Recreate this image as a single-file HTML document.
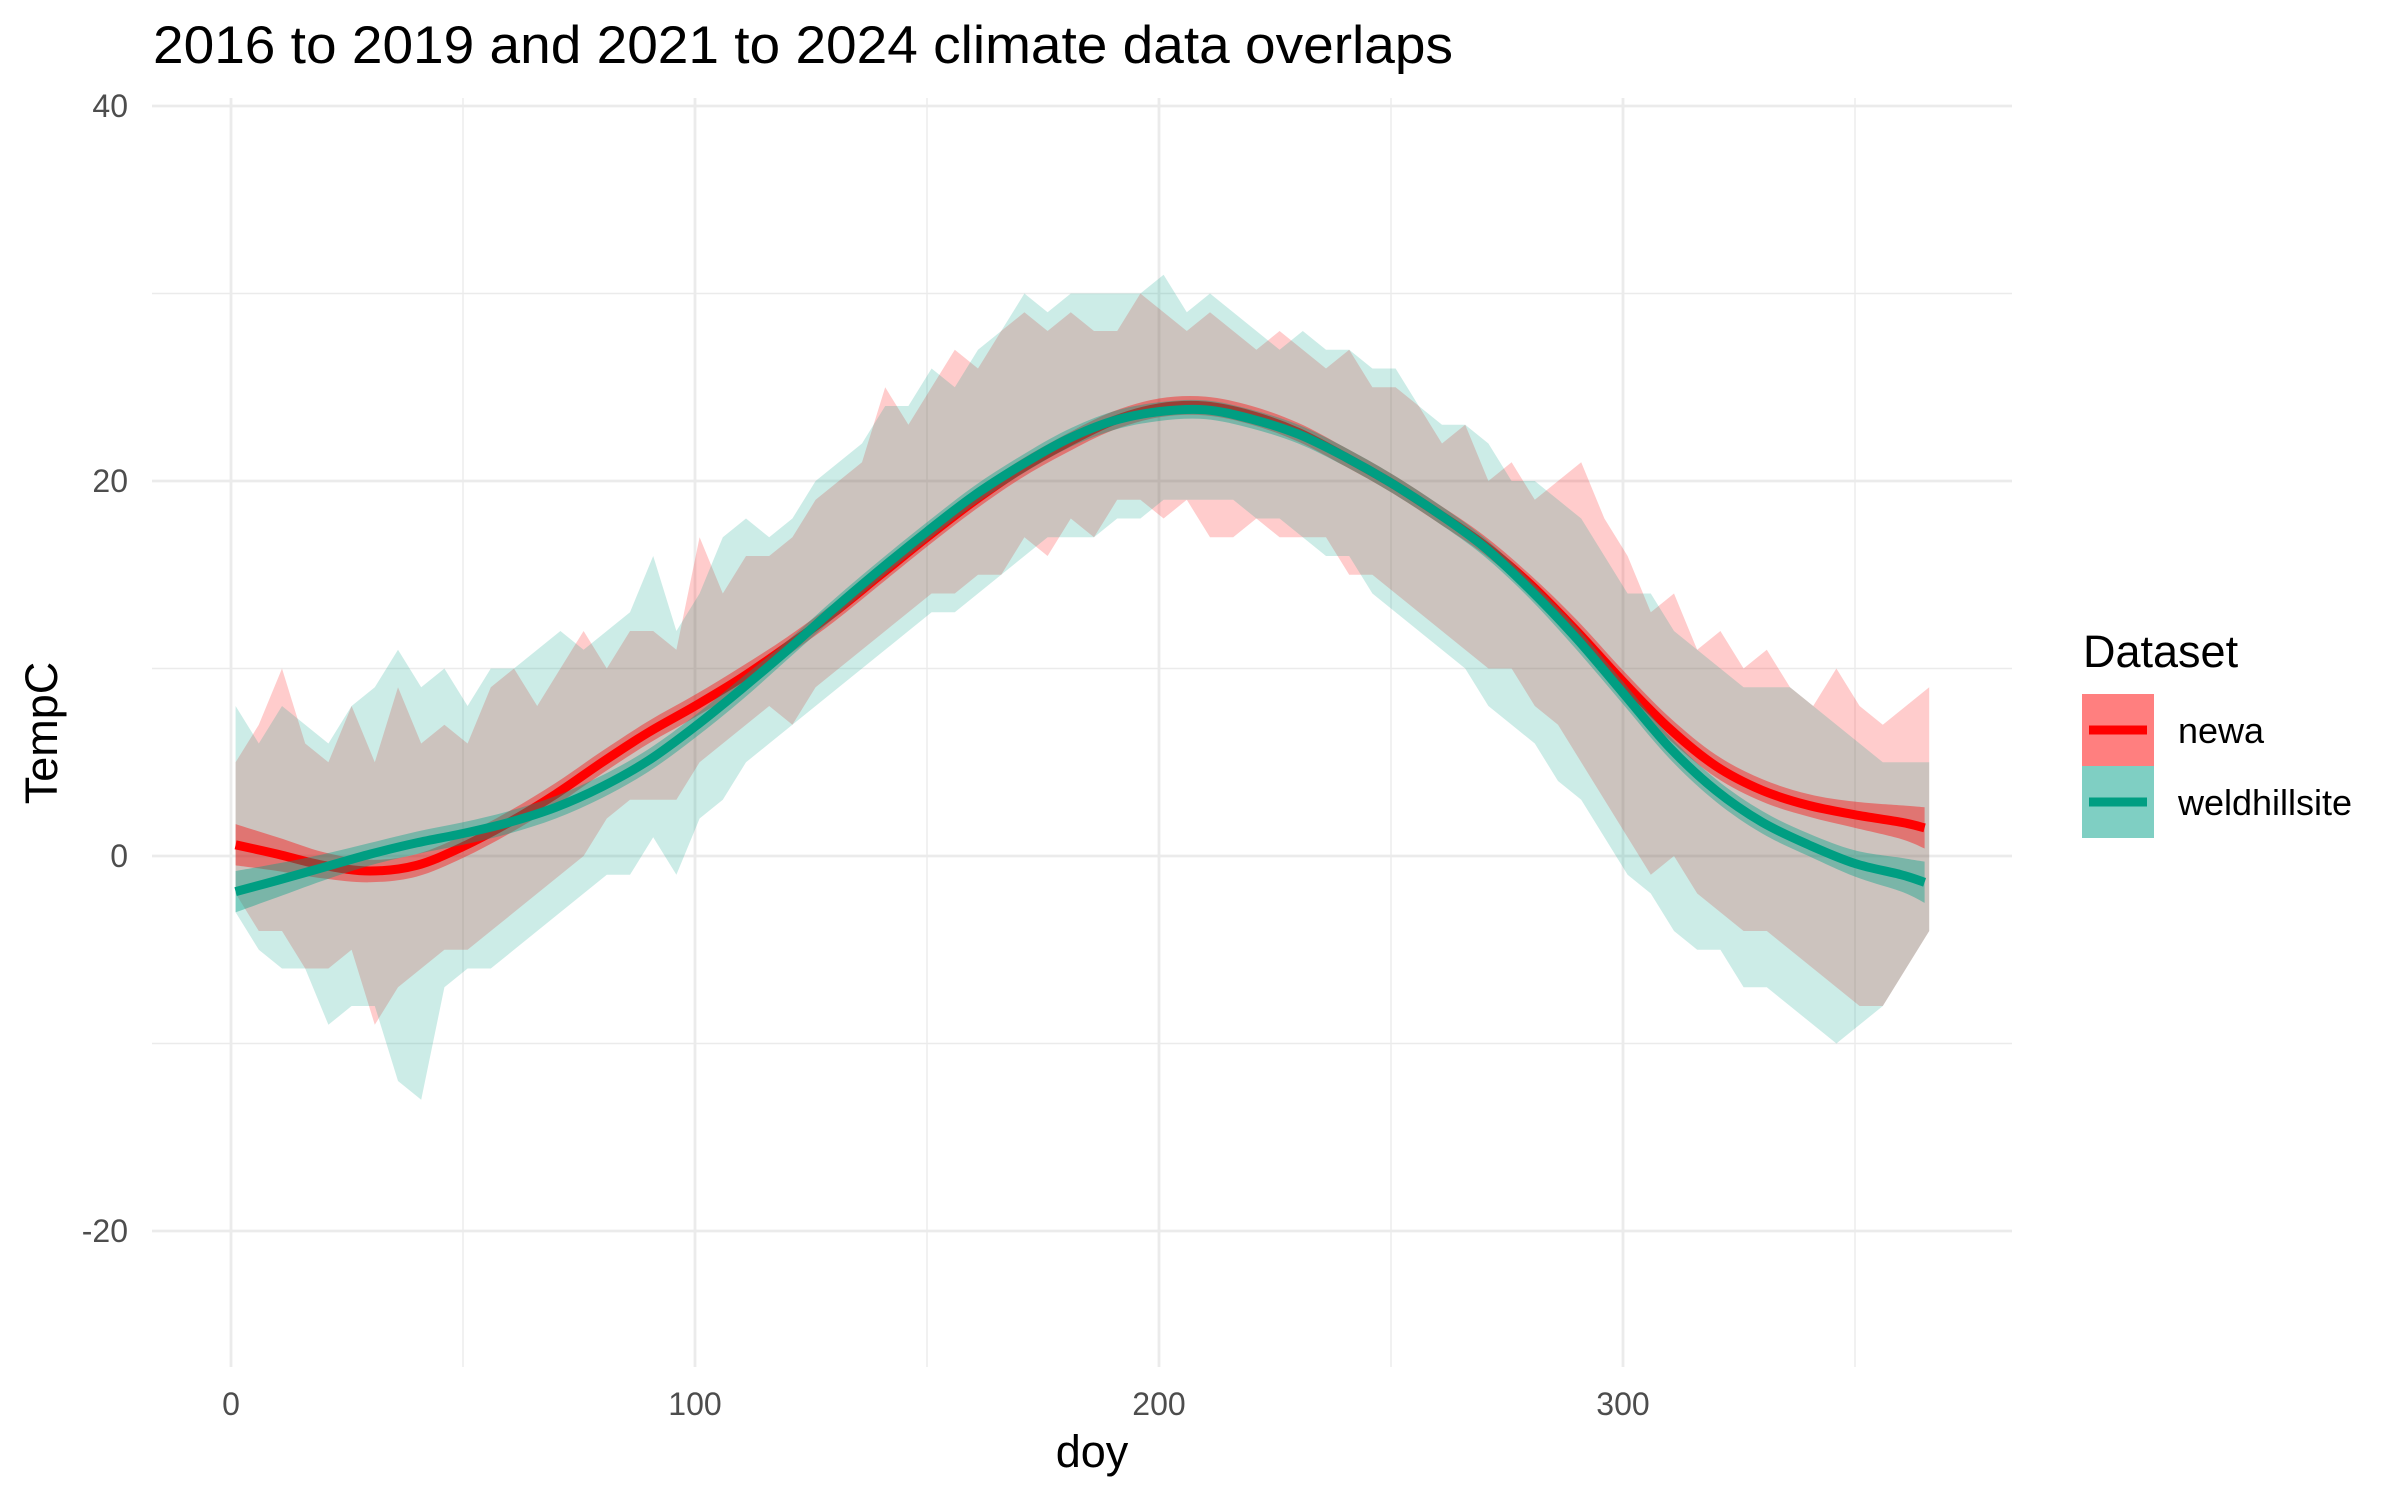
<!DOCTYPE html>
<html><head><meta charset="utf-8"><style>
html,body{margin:0;padding:0;background:#fff;}
svg{display:block;font-family:"Liberation Sans",sans-serif;}
</style></head><body>
<svg id="chart" width="2400" height="1500" viewBox="0 0 2400 1500" xmlns="http://www.w3.org/2000/svg">
<rect x="0" y="0" width="2400" height="1500" fill="#fff"/>
<g id="grid"></g>
<g id="marks"></g>
<g id="axes"></g>
<text x="153" y="63" font-size="53" fill="#000" textLength="1300" lengthAdjust="spacingAndGlyphs">2016 to 2019 and 2021 to 2024 climate data overlaps</text>
<text x="1092" y="1467" font-size="45" text-anchor="middle" fill="#000">doy</text>
<text transform="translate(57,733) rotate(-90)" font-size="45" text-anchor="middle" fill="#000">TempC</text>
<g>
<text x="2083" y="667" font-size="45" fill="#000">Dataset</text>
<g>
<rect x="2082" y="694" width="72" height="72" fill="#ff7f7f"/>
<line x1="2089" x2="2147" y1="730" y2="730" stroke="#ff0000" stroke-width="9"/>
<text x="2178" y="743" font-size="36" fill="#000">newa</text>
</g>
<g>
<rect x="2082" y="766" width="72" height="72" fill="#7fcfc3"/>
<line x1="2089" x2="2147" y1="802" y2="802" stroke="#009e82" stroke-width="9"/>
<text x="2178" y="815" font-size="36" fill="#000">weldhillsite</text>
</g>
</g>
</svg>
<script>
// raw ribbon data: days every 5
const rawDays = [1,6,11,16,21,26,31,36,41,46,51,56,61,66,71,76,81,86,91,96,101,106,111,116,121,126,131,136,141,146,151,156,161,166,171,176,181,186,191,196,201,206,211,216,221,226,231,236,241,246,251,256,261,266,271,276,281,286,291,296,301,306,311,316,321,326,331,336,341,346,351,356,361,366];
const newaHi = [5,7,10,6,5,8,5,9,6,7,6,9,10,8,10,12,10,12,12,11,17,14,16,16,17,19,20,21,25,23,25,27,26,28,29,28,29,28,28,30,29,28,29,28,27,28,27,26,27,25,25,24,22,23,20,21,19,20,21,18,16,13,14,11,12,10,11,9,8,10,8,7,8,9];
const newaLo = [-2,-4,-4,-6,-6,-5,-9,-7,-6,-5,-5,-4,-3,-2,-1,0,2,3,3,3,5,6,7,8,7,9,10,11,12,13,14,14,15,15,17,16,18,17,19,19,18,19,17,17,18,17,17,17,15,15,14,13,12,11,10,10,8,7,5,3,1,-1,0,-2,-3,-4,-4,-5,-6,-7,-8,-8,-6,-4];
const weldHi = [8,6,8,7,6,8,9,11,9,10,8,10,10,11,12,11,12,13,16,12,14,17,18,17,18,20,21,22,24,24,26,25,27,28,30,29,30,30,30,30,31,29,30,29,28,27,28,27,27,26,26,24,23,23,22,20,20,19,18,16,14,14,12,11,10,9,9,9,8,7,6,5,5,5];
const weldLo = [-3,-5,-6,-6,-9,-8,-8,-12,-13,-7,-6,-6,-5,-4,-3,-2,-1,-1,1,-1,2,3,5,6,7,8,9,10,11,12,13,13,14,15,16,17,17,17,18,18,19,19,19,19,18,18,17,16,16,14,13,12,11,10,8,7,6,4,3,1,-1,-2,-4,-5,-5,-7,-7,-8,-9,-10,-9,-8,-6,-4];
// smooth fits
const smoothDays = [1,10,20,30,40,50,60,70,80,90,100,110,120,130,140,150,160,170,180,190,200,210,220,230,240,250,260,270,280,290,300,310,320,330,340,350,360,365];
const newaFit = [0.6,0.1,-0.5,-0.8,-0.5,0.5,1.8,3.3,5.0,6.6,8.0,9.5,11.2,13.0,15.0,17.0,18.9,20.6,22.0,23.2,23.9,24.0,23.5,22.6,21.3,19.9,18.3,16.6,14.5,12.0,9.3,6.8,4.8,3.5,2.7,2.2,1.8,1.5];
const weldFit = [-1.9,-1.3,-0.6,0.1,0.7,1.2,1.8,2.6,3.7,5.1,6.9,8.9,11.0,13.2,15.3,17.3,19.2,20.8,22.2,23.2,23.7,23.8,23.3,22.5,21.3,19.9,18.3,16.5,14.2,11.6,8.7,5.8,3.5,1.8,0.6,-0.4,-1.0,-1.4];
const newaSe = [1.1,0.9,0.7,0.6,0.6,0.6,0.6,0.6,0.6,0.6,0.6,0.6,0.5,0.5,0.5,0.5,0.5,0.5,0.5,0.5,0.5,0.5,0.5,0.5,0.5,0.5,0.5,0.5,0.5,0.6,0.6,0.6,0.6,0.6,0.6,0.7,0.9,1.1];
const weldSe = [1.1,0.9,0.7,0.6,0.6,0.6,0.6,0.6,0.6,0.6,0.6,0.6,0.5,0.5,0.5,0.5,0.5,0.5,0.5,0.5,0.5,0.5,0.5,0.5,0.5,0.5,0.5,0.5,0.5,0.6,0.6,0.6,0.6,0.6,0.6,0.7,0.9,1.1];
const xTicks = [0,100,200,300];
const xMinor = [50,150,250,350];
const yTicks = [-20,0,20,40];
const yMinor = [-10,10,30];

const NS = 'http://www.w3.org/2000/svg';
const PX0 = 152, PX1 = 2012, PY0 = 98, PY1 = 1367;
function xs(d){ return 231 + d * 4.64; }
function ys(v){ return 856 - v * 18.75; }
function mk(tag, attrs, parent){
  const e = document.createElementNS(NS, tag);
  for (const k in attrs) e.setAttribute(k, attrs[k]);
  parent.appendChild(e);
  return e;
}
const grid = document.getElementById('grid');
const marks = document.getElementById('marks');
const axes = document.getElementById('axes');

yMinor.forEach(v => {
  const l = mk('line', {x1:PX0, x2:PX1, y1:ys(v), y2:ys(v), stroke:'#ebebeb', 'stroke-width':1.4}, grid);
  
  
});
xMinor.forEach(d => {
  const l = mk('line', {x1:xs(d), x2:xs(d), y1:PY0, y2:PY1, stroke:'#ebebeb', 'stroke-width':1.4}, grid);
  
  
});
yTicks.forEach(v => {
  const l = mk('line', {x1:PX0, x2:PX1, y1:ys(v), y2:ys(v), stroke:'#ebebeb', 'stroke-width':2.8}, grid);
  
  
  const t = mk('text', {x:128, y:ys(v)+11, 'font-size':32, fill:'#4d4d4d', 'text-anchor':'end'}, axes);
  t.textContent = String(v);
  
  
});
xTicks.forEach(d => {
  const l = mk('line', {x1:xs(d), x2:xs(d), y1:PY0, y2:PY1, stroke:'#ebebeb', 'stroke-width':2.8}, grid);
  
  
  const t = mk('text', {x:xs(d), y:1415, 'font-size':32, fill:'#4d4d4d', 'text-anchor':'middle'}, axes);
  t.textContent = String(d);
  
  
});

function ribbonPath(days, lo, hi){
  let s = '';
  days.forEach((d,i) => { s += (i ? 'L' : 'M') + xs(d).toFixed(1) + ',' + ys(hi[i]).toFixed(1); });
  for (let i = days.length - 1; i >= 0; i--) s += 'L' + xs(days[i]).toFixed(1) + ',' + ys(lo[i]).toFixed(1);
  return s + 'Z';
}
function smoothPts(days, vals){
  return days.map((d,i) => [xs(d), ys(vals[i])]);
}
function catmull(pts){
  let s = 'M' + pts[0][0].toFixed(1) + ',' + pts[0][1].toFixed(1);
  for (let i = 0; i < pts.length - 1; i++){
    const p0 = pts[Math.max(i-1,0)], p1 = pts[i], p2 = pts[i+1], p3 = pts[Math.min(i+2,pts.length-1)];
    const c1x = p1[0] + (p2[0]-p0[0])/6, c1y = p1[1] + (p2[1]-p0[1])/6;
    const c2x = p2[0] - (p3[0]-p1[0])/6, c2y = p2[1] - (p3[1]-p1[1])/6;
    s += 'C' + c1x.toFixed(1) + ',' + c1y.toFixed(1) + ' ' + c2x.toFixed(1) + ',' + c2y.toFixed(1) + ' ' + p2[0].toFixed(1) + ',' + p2[1].toFixed(1);
  }
  return s;
}
function bandPath(days, fit, se){
  const up = smoothPts(days, fit.map((v,i) => v + se[i]));
  const dn = smoothPts(days, fit.map((v,i) => v - se[i])).reverse();
  let s = catmull(up);
  s += 'L' + dn[0][0].toFixed(1) + ',' + dn[0][1].toFixed(1);
  s += catmull(dn).replace(/^M[^C]*/, '');
  return s + 'Z';
}

const r1 = mk('path', {d:ribbonPath(rawDays, newaLo, newaHi), fill:'#ff0000', 'fill-opacity':0.2}, marks);


const r2 = mk('path', {d:ribbonPath(rawDays, weldLo, weldHi), fill:'#00a087', 'fill-opacity':0.2}, marks);



const b1 = mk('path', {d:bandPath(smoothDays, newaFit, newaSe), fill:'#ff0000', 'fill-opacity':0.4}, marks);


const l1 = mk('path', {d:catmull(smoothPts(smoothDays, newaFit)), fill:'none', stroke:'#ff0000', 'stroke-width':9, 'stroke-linecap':'butt'}, marks);


const b2 = mk('path', {d:bandPath(smoothDays, weldFit, weldSe), fill:'#00a087', 'fill-opacity':0.4}, marks);


const l2 = mk('path', {d:catmull(smoothPts(smoothDays, weldFit)), fill:'none', stroke:'#009e82', 'stroke-width':9, 'stroke-linecap':'butt'}, marks);


</script>
</body></html>
